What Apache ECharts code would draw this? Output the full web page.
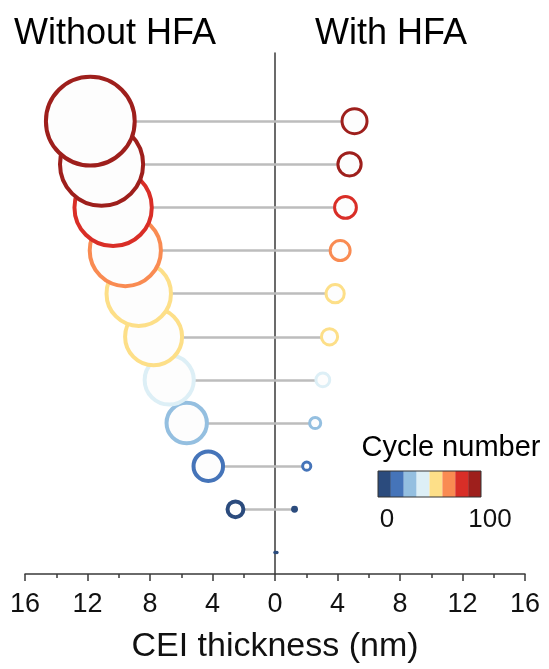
<!DOCTYPE html>
<html><head><meta charset="utf-8">
<script src="https://cdn.jsdelivr.net/npm/echarts@6/dist/echarts.min.js"></script>
<style>html,body{margin:0;padding:0;background:#fff}#c{width:549px;height:669px}</style>
</head><body><div id="c"></div>
<script>
// ---- data ----
const cycles = [0, 10, 20, 30, 40, 50, 60, 70, 80, 90, 100];
const withoutHFA = [0, 2.53, 4.27, 5.65, 6.77, 7.77, 8.72, 9.58, 10.36, 11.10, 11.82]; // nm (plotted to the left)
const withHFA = [0.12, 1.25, 2.03, 2.57, 3.06, 3.49, 3.85, 4.17, 4.51, 4.77, 5.09];      // nm (plotted to the right)
const xTicks = [-16, -12, -8, -4, 0, 4, 8, 12, 16];
const bandEdges = [0, 12.5, 25, 37.5, 50, 62.5, 75, 87.5, 100];
const bandColors = ['#2b4b7d', '#4574b9', '#94bfe0', '#ddeff6', '#fddf88', '#f98b52', '#d92e27', '#9e1f1c'];
const colorbarTicks = [0, 100];
const panelTitles = ['Without HFA', 'With HFA'];

// ---- helpers ----
const FONT = '"Liberation Sans", Arial, sans-serif';
function colorFor(c) {
  let i = bandEdges.findIndex((e, k) => k < bandEdges.length - 1 && c >= e && c < bandEdges[k + 1]);
  if (i < 0) i = bandColors.length - 1;
  return bandColors[i];
}
function buildPoints(vals, sign, scale, bw) {
  return cycles.map((c, i) => {
    const v = vals[i];
    const d = Math.abs(v) * scale;
    const col = colorFor(c);
    if (d < 2 * bw + 2) {
      return { value: [sign * v, c], symbolSize: Math.max(d, 3.5),
        itemStyle: { color: col, borderWidth: 0, opacity: 1 } };
    }
    return { value: [sign * v, c], symbolSize: d - bw,
      itemStyle: { color: '#fdfdfd', borderColor: col, borderWidth: bw, opacity: 1 } };
  });
}

const chart = echarts.init(document.getElementById('c'), null, { renderer: 'canvas' });

const barSeries = bandColors.map((col, i) => ({
  type: 'bar', xAxisIndex: 1, yAxisIndex: 1, stack: 'cb', silent: true,
  barWidth: '100%', data: [bandEdges[i + 1] - bandEdges[i]],
  itemStyle: { color: col }
}));

const option = {
  animation: false,
  backgroundColor: '#ffffff',
  textStyle: { fontFamily: FONT },
  grid: [
    { left: 25, right: 24, top: 53, bottom: 91, containLabel: false },
    { left: 378, top: 471, width: 103, height: 26, show: true, z: 10,
      backgroundColor: 'transparent', borderColor: '#333', borderWidth: 1 }
  ],
  xAxis: [
    { type: 'value', gridIndex: 0,
      min: xTicks[0], max: xTicks[xTicks.length - 1], interval: xTicks[1] - xTicks[0],
      axisLine: { onZero: false, lineStyle: { color: '#3a3a3a', width: 1.5 } },
      axisTick: { length: 7, lineStyle: { color: '#3a3a3a', width: 1.5 } },
      minorTick: { show: true, splitNumber: 2, length: 4, lineStyle: { color: '#3a3a3a', width: 1.5 } },
      splitLine: { show: false }, minorSplitLine: { show: false },
      axisLabel: { formatter: v => String(Math.abs(v)), fontSize: 27, color: '#111', margin: 17, fontFamily: FONT },
      name: 'CEI thickness (nm)', nameLocation: 'middle', nameGap: 56,
      nameTextStyle: { fontSize: 34, color: '#111', fontFamily: FONT }
    },
    { type: 'value', gridIndex: 1, min: colorbarTicks[0], max: colorbarTicks[1],
      interval: colorbarTicks[1] - colorbarTicks[0],
      axisLine: { show: false }, axisTick: { show: false }, splitLine: { show: false },
      axisLabel: { fontSize: 26, color: '#111', margin: 10, padding: [0, 0, 0, 18], fontFamily: FONT }
    }
  ],
  yAxis: [
    { type: 'value', gridIndex: 0, min: -5, max: 115.8,
      axisLine: { show: true, onZero: true, lineStyle: { color: '#3a3a3a', width: 1.5 } },
      axisTick: { show: false }, axisLabel: { show: false }, splitLine: { show: false }
    },
    { type: 'category', gridIndex: 1, data: ['band'], show: false }
  ],
  graphic: [
    { type: 'text', x: 115, y: 34, style: { text: panelTitles[0], fill: '#000',
      font: '36px ' + FONT, align: 'center', verticalAlign: 'middle' } },
    { type: 'text', x: 391, y: 34, style: { text: panelTitles[1], fill: '#000',
      font: '36px ' + FONT, align: 'center', verticalAlign: 'middle' } },
    { type: 'text', x: 451, y: 448, style: { text: 'Cycle number', fill: '#000',
      font: '29px ' + FONT, align: 'center', verticalAlign: 'middle' } }
  ],
  series: [
    { type: 'lines', coordinateSystem: 'cartesian2d', xAxisIndex: 0, yAxisIndex: 0, z: 1, silent: true,
      lineStyle: { color: '#bdbdbd', width: 2.5, opacity: 1 },
      data: cycles.map((c, i) => ({ coords: [[-withoutHFA[i], c], [withHFA[i], c]] }))
    },
    { type: 'scatter', xAxisIndex: 0, yAxisIndex: 0, z: 3, symbol: 'circle',
      itemStyle: { opacity: 1 },
      data: buildPoints(withoutHFA, -1, 7.85, 4) },
    { type: 'scatter', xAxisIndex: 0, yAxisIndex: 0, z: 3, symbol: 'circle',
      itemStyle: { opacity: 1 },
      data: buildPoints(withHFA, 1, 5.5, 3) },
    ...barSeries
  ]
};
chart.setOption(option);
</script></body></html>
